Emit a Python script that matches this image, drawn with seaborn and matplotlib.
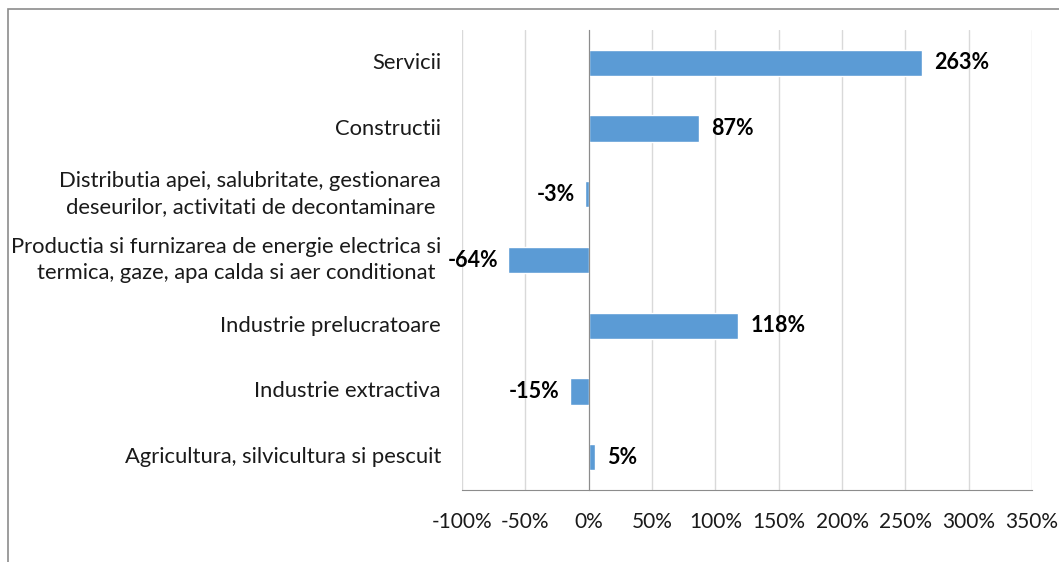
import matplotlib
matplotlib.use("Agg")
import matplotlib.pyplot as plt
import matplotlib.patches as mpatches
import matplotlib.transforms as mtransforms
import seaborn as sns
import pandas as pd

# chart data
categories = [
    "Servicii",
    "Constructii",
    "Distributia apei, salubritate, gestionarea\ndeseurilor, activitati de decontaminare ",
    "Productia si furnizarea de energie electrica si\ntermica, gaze, apa calda si aer conditionat ",
    "Industrie prelucratoare",
    "Industrie extractiva",
    "Agricultura, silvicultura si pescuit",
]
values = [263, 87, -3, -64, 118, -15, 5]
x_ticks = [-100, -50, 0, 50, 100, 150, 200, 250, 300, 350]

df = pd.DataFrame({"cat": categories, "val": values})

sns.set_style("white")
plt.rcParams["font.family"] = ["Lato", "DejaVu Sans"]

fig = plt.figure(figsize=(10.59, 5.62), dpi=100)
ax = fig.add_axes([0.4363, 0.1281, 0.5382, 0.8185])

sns.barplot(data=df, x="val", y="cat", orient="h", color="#5B9BD5",
            width=0.4, saturation=1, ax=ax, zorder=3)

ax.set_xlim(-100, 350)
ax.set_ylim(len(categories) - 0.5, -0.5)
ax.set_xticks(x_ticks)
ax.set_xticklabels([f"{t}%" for t in x_ticks], fontsize=15, color="#1a1a1a")
ax.tick_params(axis="x", length=5, width=1, color="#8c8c8c", pad=11, direction="out")
ax.grid(axis="x", color="#d9d9d9", linewidth=1, zorder=0)
ax.set_axisbelow(True)
ax.set_xlabel("")
ax.set_ylabel("")

# vertical axis at 0 with tick marks between categories
for s in ["top", "right"]:
    ax.spines[s].set_visible(False)
ax.spines["bottom"].set_color("#8c8c8c")
ax.spines["left"].set_position(("data", 0))
ax.spines["left"].set_color("#8c8c8c")
ax.spines["left"].set_zorder(4)
ax.set_yticks([i - 0.5 for i in range(len(categories) + 1)])
ax.set_yticklabels([])
ax.tick_params(axis="y", length=5, width=1, color="#8c8c8c", direction="out")

# category labels on the far left of the plot area
trans = mtransforms.blended_transform_factory(ax.transAxes, ax.transData)
for i, cat in enumerate(categories):
    ax.text(-0.037, i, cat, transform=trans, ha="right", va="center",
            fontsize=15.8, color="#1a1a1a", linespacing=1.35)

# data labels
for i, v in enumerate(values):
    if v >= 0:
        ax.annotate(f"{v}%", (v, i), xytext=(9, 0), textcoords="offset points",
                    ha="left", va="center", fontsize=15.5, fontweight="bold", color="#000000")
    else:
        ax.annotate(f"{v}%", (v, i), xytext=(-7, 0), textcoords="offset points",
                    ha="right", va="center", fontsize=15.5, fontweight="bold", color="#000000")

# chart frame
fig.patches.append(mpatches.Rectangle((8 / 1059, -0.1), 1.2, 1 - 9 / 562 + 0.1,
                                      transform=fig.transFigure, fill=False,
                                      edgecolor="#8c8c8c", linewidth=1.2))

fig.savefig("out.png", dpi=100)
